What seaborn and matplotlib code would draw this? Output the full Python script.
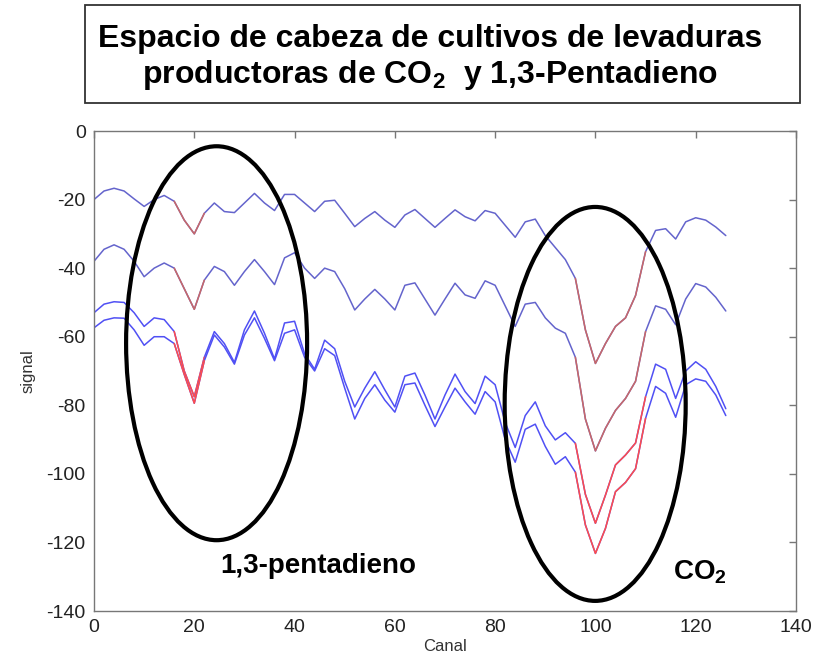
import numpy as np
import pandas as pd
import matplotlib
matplotlib.use("Agg")
import matplotlib.pyplot as plt
from matplotlib.patches import Ellipse, Rectangle
import seaborn as sns

# ---------------- data ----------------
canal = list(range(0, 128, 2))

serie_1 = [-20, -17.5, -16.7, -17.5, -19.8, -22, -20, -18.8, -20.5, -26,
           -30, -24, -21, -23.5, -23.8, -21, -18.2, -21, -23.2, -18.5,
           -18.5, -21, -23.5, -20.5, -20.2, -24, -27.9, -25.5, -23.5, -26,
           -28.1, -24.5, -22.9, -25.5, -28.1, -25.5, -23, -25, -26.2, -23.2,
           -24, -27.5, -31, -26.5, -25.7, -30.5, -34, -37.5, -43, -58,
           -67.8, -62, -57, -54.5, -48, -35.2, -29, -28.5, -31.5, -26.5,
           -25.3, -26, -28, -30.5]

serie_2 = [-38, -34.5, -33.2, -34.5, -38, -42.5, -40, -38.5, -40, -46,
           -52, -43.5, -39.5, -41, -45, -41, -37.5, -41, -44.8, -37,
           -35.5, -40, -43, -40, -41, -46, -52.2, -49, -46.2, -49,
           -52.2, -45, -44.3, -49, -53.7, -49, -44.4, -47.8, -48.8, -43.7,
           -45, -51, -57, -50.5, -50, -54.5, -57.5, -59, -66, -84,
           -93.3, -86.7, -81.5, -78, -73, -58.5, -51, -52, -56.5, -49,
           -44.5, -45.5, -48.5, -52.5]

serie_3 = [-53, -50.5, -49.8, -50, -53, -57, -54.5, -55, -58.5, -70,
           -77.5, -66, -58.5, -62, -67.5, -58, -52.5, -59, -66.5, -56,
           -55.5, -65, -69.5, -61, -63.5, -73, -80.5, -75, -70.2, -75.5,
           -80.5, -71.5, -70.6, -77, -84, -77, -70.9, -76, -79.5, -71.5,
           -74, -85, -92.3, -83, -79, -86, -90.1, -88, -91.1, -106,
           -114.4, -106.2, -97.4, -94.5, -91, -77.5, -68, -69.5, -78, -70,
           -67.3, -69.5, -74.5, -81]

serie_4 = [-57.4, -55.2, -54.5, -54.6, -58, -62.5, -60, -60, -62, -71,
           -79.4, -67, -59.5, -63, -68, -59.5, -54.5, -60.5, -67, -59,
           -58, -66, -70, -63.5, -65.5, -75, -84, -78, -74, -78.5,
           -82, -74, -73.5, -80, -86.2, -80.5, -75, -79, -82.6, -76,
           -79, -90, -96.6, -87, -85.5, -92, -97.2, -95, -99.5, -114.9,
           -123.2, -115.9, -105.2, -102.5, -98.5, -83.8, -74.5, -76.5, -83.5, -74,
           -72.3, -73, -77, -83]

series = {"s1": serie_1, "s2": serie_2, "s3": serie_3, "s4": serie_4}
zonas_rojas = [(16, 22), (96, 110)]

x_ticks = [0, 20, 40, 60, 80, 100, 120, 140]
y_ticks = [0, -20, -40, -60, -80, -100, -120, -140]

titulo = "Espacio de cabeza de cultivos de levaduras\nproductoras de CO$_2$  y 1,3-Pentadieno"

# ---------------- style ----------------
sns.set_style("white")
plt.rcParams["font.family"] = ["Liberation Sans", "DejaVu Sans"]
plt.rcParams["mathtext.fontset"] = "custom"
plt.rcParams["mathtext.rm"] = "Liberation Sans:bold"
plt.rcParams["mathtext.bf"] = "Liberation Sans:bold"
plt.rcParams["mathtext.default"] = "bf"

blue_top, red_top = "#6464cc", "#c86868"
blue_bot, red_bot = "#5050f4", "#ff4c4c"
colors = {"s1": (blue_top, red_top), "s2": (blue_top, red_top),
          "s3": (blue_bot, red_bot), "s4": (blue_bot, red_bot)}

rows = []
for name, vals in series.items():
    for c, v in zip(canal, vals):
        rows.append({"serie": name, "canal": c, "signal": v})
df = pd.DataFrame(rows)

fig = plt.figure(figsize=(8.14, 6.6), dpi=100)
ax = fig.add_axes([94 / 814, 49 / 660, 702 / 814, 480 / 660])

for name in series:
    sub = df[df.serie == name]
    sns.lineplot(data=sub, x="canal", y="signal", ax=ax, color=colors[name][0],
                 lw=1.1, estimator=None, sort=False, legend=False)
    for (a, b) in zonas_rojas:
        seg = sub[(sub.canal >= a) & (sub.canal <= b)]
        sns.lineplot(data=seg, x="canal", y="signal", ax=ax, color=colors[name][1],
                     lw=1.1, estimator=None, sort=False, legend=False)

ax.add_patch(Ellipse((24.45, -61.9), 36.1, 114.9, fill=False, lw=3, ec="black", zorder=5))
ax.add_patch(Ellipse((99.95, -79.6), 36.1, 114.9, fill=False, lw=3, ec="black", zorder=5))

ax.text(44.8, -126.8, "1,3-pentadieno", fontsize=20, fontweight="bold", color="black",
        ha="center", va="center", zorder=6)
ax.text(120.8, -128.8, "CO$_2$", fontsize=20, fontweight="bold", color="black",
        ha="center", va="center", zorder=6)

ax.set_xlim(0, 140)
ax.set_ylim(-140, 0)
ax.set_xticks(x_ticks)
ax.set_yticks(y_ticks)
ax.set_xticklabels([str(t) for t in x_ticks])
ax.set_yticklabels([str(t) for t in y_ticks])
ax.tick_params(direction="in", top=True, right=True, length=5, width=1,
               color="#777777", labelcolor="#222222", labelsize=14, pad=6)
for s in ax.spines.values():
    s.set_color("#777777")
    s.set_linewidth(1.0)
ax.set_xlabel("Canal", fontsize=12, color="#333333", labelpad=2)
ax.set_ylabel("signal", fontsize=12, color="#333333", labelpad=8)

# title box
fig.patches.append(Rectangle((85 / 814, 1 - 103 / 660), 715 / 814, 98 / 660,
                             transform=fig.transFigure, fill=False, ec="#333333", lw=1.3))
fig.text(430 / 814, 1 - 58 / 660, titulo, fontsize=23, fontweight="bold", color="black",
         ha="center", va="center", linespacing=1.15)

fig.savefig("out.png", dpi=100)
